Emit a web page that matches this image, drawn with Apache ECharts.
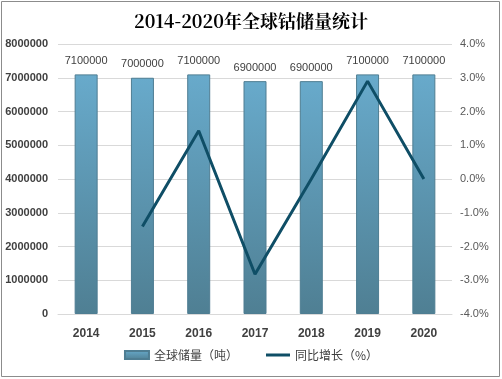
<!DOCTYPE html>
<html><head><meta charset="utf-8">
<script src="https://cdn.jsdelivr.net/npm/echarts@6/dist/echarts.min.js"></script>
<style>html,body{margin:0;padding:0;background:#fff}#c{width:502px;height:379px}</style>
</head><body><div id="c"></div>
<script>
const categories = ['2014','2015','2016','2017','2018','2019','2020'];
const reserves = [7100000,7000000,7100000,6900000,6900000,7100000,7100000];
const growth = [null,-1.41,1.43,-2.82,0,2.90,0];
const leftTicks = [0,1000000,2000000,3000000,4000000,5000000,6000000,7000000,8000000];

const chart = echarts.init(document.getElementById('c'));
chart.setOption({
  animation:false,
  backgroundColor:'#fff',
  graphic:[{type:'rect',shape:{x:1.5,y:1.5,width:498,height:375},style:{fill:'none',stroke:'#8c8c8c',lineWidth:1}}],
  title:{text:'2014-2020年全球钴储量统计',left:'center',top:7,
    textStyle:{fontFamily:'"Noto Serif CJK SC","DejaVu Serif",serif',fontSize:18,fontWeight:'bold',color:'#000'}},
  grid:{left:58,right:50,top:44,bottom:65},
  legend:{bottom:13,left:'center',itemGap:28,itemWidth:24,itemHeight:8,
    textStyle:{fontSize:12,color:'#404040',fontFamily:'"Noto Sans CJK SC",sans-serif'},
    data:[{name:'全球储量（吨）',icon:'rect'},{name:'同比增长（%）',icon:'path://M0,0h24v3h-24z'}]},
  xAxis:{type:'category',data:categories,
    axisLine:{show:true,lineStyle:{color:'#d9d9d9'}},axisTick:{show:false},
    axisLabel:{fontSize:12,fontWeight:'bold',color:'#404040',margin:14,fontFamily:'"Liberation Sans",Arial,sans-serif'}},
  yAxis:[{type:'value',min:0,max:8000000,interval:1000000,
    axisLine:{show:false},axisTick:{show:false},
    splitLine:{lineStyle:{color:'#d9d9d9'}},
    axisLabel:{fontSize:11,fontWeight:'bold',color:'#404040',margin:10,fontFamily:'"Liberation Sans",Arial,sans-serif',
      formatter:v=>leftTicks.includes(v)?String(v):''}},
    {type:'value',min:-4,max:4,interval:1,position:'right',
    axisLine:{show:false},axisTick:{show:false},splitLine:{show:false},
    axisLabel:{fontSize:11,color:'#595959',margin:8,fontFamily:'"Liberation Sans",Arial,sans-serif',
      formatter:v=>v.toFixed(1)+'%'}}],
  series:[
    {name:'全球储量（吨）',type:'bar',data:reserves,barWidth:23,
     itemStyle:{borderColor:'#4e7d92',borderWidth:1,
       color:new echarts.graphic.LinearGradient(0,0,0,1,[{offset:0,color:'#68aacb'},{offset:1,color:'#4f7f93'}])},
     label:{show:true,position:'top',distance:8,fontSize:11,color:'#404040',fontFamily:'"Liberation Sans",Arial,sans-serif'}},
    {name:'同比增长（%）',type:'line',yAxisIndex:1,data:growth,showSymbol:false,symbol:'none',
     lineStyle:{color:'#0f4e66',width:3},itemStyle:{color:'#0f4e66'}}
  ]
});
</script></body></html>
